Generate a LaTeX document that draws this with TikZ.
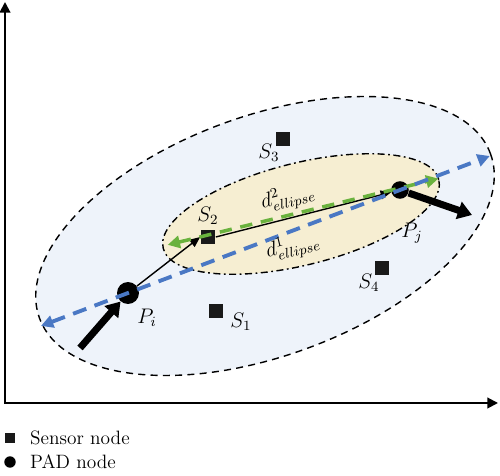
\documentclass[tikz,border=0pt]{standalone}
\usepackage{amsmath}
\usepackage{amssymb}
\usepackage{tikz}
\usetikzlibrary{arrows.meta}
\usetikzlibrary{calc}

\definecolor{outerfill}{HTML}{EEF3FA}
\definecolor{innerfill}{HTML}{F6EED2}
\definecolor{lineblue}{HTML}{4A78C4}
\definecolor{linegreen}{HTML}{6AB23E}

\begin{document}
\begin{tikzpicture}[x=0.02cm,y=0.02cm,
        sensor/.style={rectangle,fill=black!90,inner sep=0pt,minimum size=8.5pt},
        pad/.style={circle,fill=black,inner sep=0pt},
        lab/.style={font=\large},
        legtext/.style={anchor=west,font=\fontsize{11}{13}\selectfont}]
        \useasboundingbox (0,0) rectangle (500,476);

        % axes
        \coordinate (yend) at (5,474);
        \coordinate (orig) at (5,73);
        \coordinate (xend) at (498,73);
        \draw[line width=1.1pt, {Triangle[length=6pt,width=6pt]}-{Triangle[length=6pt,width=6pt]}] (yend) -- (orig) -- (xend);

        % the two ellipses
        \filldraw[fill=outerfill, draw=black, line width=0.8pt, dash pattern=on 4pt off 3pt, rotate around={20:(265,240)}] (265,240) ellipse (240 and 120);
        \filldraw[fill=innerfill, draw=black, line width=0.8pt, dash pattern=on 4pt off 2pt on 1pt off 2pt, rotate around={14:(301,262)}] (301,262) ellipse (142 and 51);

        % sensors and PADs
        \node[sensor] (S1) at (216,165) {};
        \node[sensor] (S2) at (208,239) {};
        \node[sensor] (S3) at (283,337) {};
        \node[sensor] (S4) at (382,208) {};
        \node[pad, minimum size=12.5pt] (Pi) at (128,183) {};
        \node[pad, minimum size=10pt] (Pj) at (400,286) {};

        \node[lab] (S1lab) at (241,154) {$S_1$};
        \node[lab] (S2lab) at (208,260) {$S_2$};
        \node[lab] (S3lab) at (269,323) {$S_3$};
        \node[lab] (S4lab) at (369,193) {$S_4$};
        \node[lab] (Pilab) at (147,158) {$P_i$};
        \node[lab] (Pjlab) at (412,243) {$P_j$};

        % path through S2
        \draw[line width=0.8pt, -{Triangle[length=6pt,width=5pt]}] (Pi) -- (S2.west);
        \draw[line width=0.8pt, -{Triangle[length=6pt,width=5pt]}] (S2.east) -- (Pj);

        % d2 and d1
        \coordinate (greenL) at ($(S2)!-0.21!(Pj)+(0,2)$);
        \coordinate (greenR) at ($(S2)!1.2!(Pj)+(0,2)$);
        \draw[linegreen, line width=2pt, dash pattern=on 7pt off 5pt, {Triangle[length=7pt,width=7pt]}-{Triangle[length=7pt,width=7pt]}] (greenL) -- (greenR);
        \coordinate (blueL) at ($(Pi)!-0.32!(Pj)$);
        \coordinate (blueR) at ($(Pi)!1.33!(Pj)$);
        \draw[lineblue, line width=2.2pt, dash pattern=on 8pt off 5pt, {Triangle[length=7pt,width=7pt]}-{Triangle[length=7pt,width=7pt]}] (blueL) -- (blueR);

        \node[lab, rotate=14] (d2) at (288,278) {$d^{2}_{ellipse}$};
        \node[lab, rotate=14] (d1) at (293,229) {$d^{1}_{ellipse}$};

        % moving directions
        \coordinate (Pitail) at (80,128);
        \coordinate (Pjhead) at (472,261);
        \draw[line width=4pt, -{Triangle[length=8pt,width=10pt]}] (Pitail) -- (Pi);
        \draw[line width=4pt, -{Triangle[length=8pt,width=10pt]}] (Pj) -- (Pjhead);

        % legend
        \node[sensor, minimum size=6pt] (legS) at (10,38) {};
        \node[legtext] (legStext) at (24,38) {Sensor node};
        \node[pad, minimum size=6.5pt] (legP) at (10,14) {};
        \node[legtext] (legPtext) at (24,14) {PAD node};

\end{tikzpicture}
\end{document}
